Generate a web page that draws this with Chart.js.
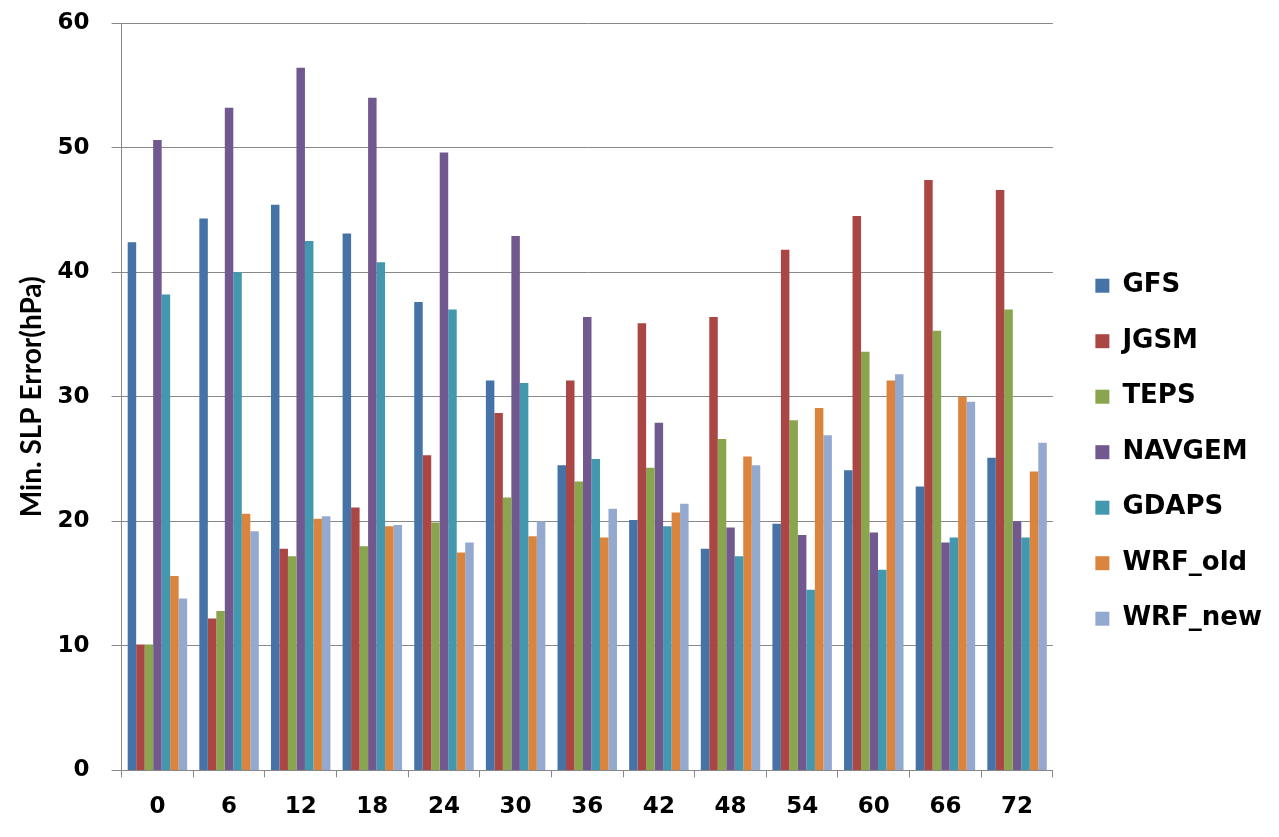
<!DOCTYPE html>
<html>
<head>
<meta charset="utf-8">
<script src="https://cdn.jsdelivr.net/npm/chart.js@4"></script>
<style>
  body { margin: 0; background: #fff; }
  #wrap { width: 1279px; height: 837px; }
</style>
</head>
<body>
<div id="wrap"><canvas id="chart-slp" width="1279" height="837"></canvas></div>
<script>
// forecast lead time (h)
var leadTimes = ['0', '6', '12', '18', '24', '30', '36', '42', '48', '54', '60', '66', '72'];

var gfs    = [42.4, 44.3, 45.4, 43.1, 37.6, 31.3, 24.5, 20.1, 17.8, 19.8, 24.1, 22.8, 25.1];
var jgsm   = [10.1, 12.2, 17.8, 21.1, 25.3, 28.7, 31.3, 35.9, 36.4, 41.8, 44.5, 47.4, 46.6];
var teps   = [10.1, 12.8, 17.2, 18.0, 19.9, 21.9, 23.2, 24.3, 26.6, 28.1, 33.6, 35.3, 37.0];
var navgem = [50.6, 53.2, 56.4, 54.0, 49.6, 42.9, 36.4, 27.9, 19.5, 18.9, 19.1, 18.3, 20.0];
var gdaps  = [38.2, 40.0, 42.5, 40.8, 37.0, 31.1, 25.0, 19.6, 17.2, 14.5, 16.1, 18.7, 18.7];
var wrfOld = [15.6, 20.6, 20.2, 19.6, 17.5, 18.8, 18.7, 20.7, 25.2, 29.1, 31.3, 30.0, 24.0];
var wrfNew = [13.8, 19.2, 20.4, 19.7, 18.3, 20.0, 21.0, 21.4, 24.5, 26.9, 31.8, 29.6, 26.3];

var seriesNames  = ['GFS', 'JGSM', 'TEPS', 'NAVGEM', 'GDAPS', 'WRF_old', 'WRF_new'];
var seriesValues = [gfs, jgsm, teps, navgem, gdaps, wrfOld, wrfNew];
var seriesColors = ['#4572A7', '#AA4643', '#89A54E', '#71588F', '#4198AF', '#DB843D', '#93A9CF'];

var datasets = [];
for (let i = 0; i < seriesNames.length; i++) {
    datasets.push({
        label: seriesNames[i],
        data: seriesValues[i],
        backgroundColor: seriesColors[i],
        borderWidth: 0,
        categoryPercentage: 0.83,
        barPercentage: 1.0
    });
}

// white page behind the chart
var whiteBg = {
    id: 'whiteBg',
    beforeDraw: function (chart) {
        var ctx = chart.ctx;
        ctx.save();
        ctx.fillStyle = '#ffffff';
        ctx.fillRect(0, 0, chart.width, chart.height);
        ctx.restore();
    }
};

var tickFont = { family: 'DejaVu Sans', size: 23, weight: 'bold' };

var ctx = document.getElementById('chart-slp').getContext('2d');
var slpChart = new Chart(ctx, {
    type: 'bar',
    data: { labels: leadTimes, datasets: datasets },
    plugins: [whiteBg],
    options: {
        responsive: false,
        animation: false,
        layout: { autoPadding: false, padding: { top: 23, right: 7, left: 11, bottom: 0 } },
        plugins: {
            tooltip: { enabled: false },
            legend: {
                position: 'right',
                align: 'center',
                title: {
                    // empty title, only pushes the entries down a bit
                    display: true,
                    text: '',
                    padding: { top: 15, bottom: 15 },
                    font: { size: 12 }
                },
                labels: {
                    boxWidth: 14,
                    boxHeight: 14,
                    padding: 29.5,
                    color: '#000',
                    font: { family: 'DejaVu Sans', size: 26, weight: 'bold' }
                }
            }
        },
        scales: {
            x: {
                grid: {
                    display: true,
                    offset: true,
                    drawOnChartArea: false,
                    drawTicks: true,
                    tickLength: 7,
                    color: '#888'
                },
                border: { color: '#888', width: 1 },
                ticks: {
                    color: '#000',
                    padding: 16,
                    font: tickFont
                }
            },
            y: {
                min: 0,
                max: 60,
                ticks: {
                    stepSize: 10,
                    color: '#000',
                    padding: 22,
                    font: tickFont
                },
                grid: {
                    color: '#888',
                    lineWidth: 1,
                    tickLength: 10
                },
                border: { color: '#888', width: 1 },
                title: {
                    display: true,
                    text: 'Min. SLP Error(hPa)',
                    color: '#000',
                    padding: { top: 4, bottom: -13 },
                    font: { family: 'Lato', size: 28, weight: 'bold' }
                },
                // tick padding would otherwise push the plot top down
                afterFit: function (scale) {
                    scale.paddingTop = 0;
                    scale.paddingBottom = 0;
                }
            },
            // blank strip between the plot and the legend
            gap: {
                position: 'right',
                display: true,
                grid: { display: false },
                border: { display: false },
                ticks: { display: false },
                afterFit: function (scale) { scale.width = 13; }
            }
        }
    }
});
</script>
</body>
</html>
